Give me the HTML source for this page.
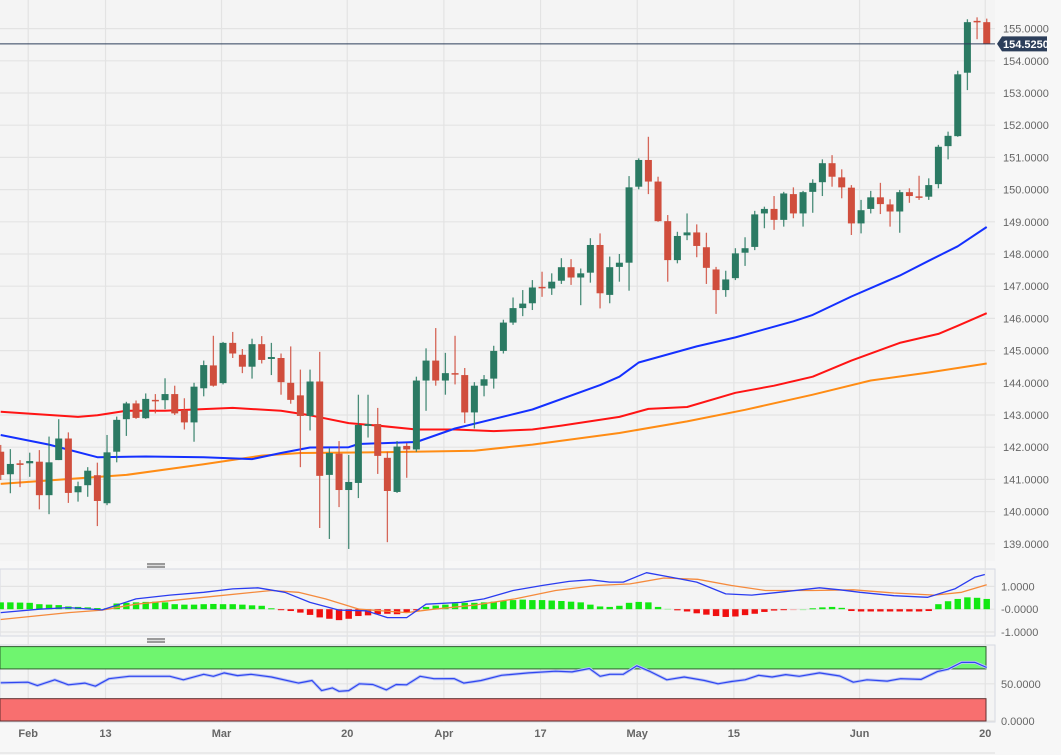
<!DOCTYPE html>
<html><head><meta charset="utf-8"><title>Candlestick chart</title>
<style>
html,body{margin:0;padding:0;background:#f7f7f7;}
svg{display:block;font-family:"Liberation Sans",sans-serif;}
</style></head>
<body>
<svg id="chart" width="1061" height="755" viewBox="0 0 1061 755">
  <rect x="0" y="0" width="1061" height="755" fill="#f7f7f7"/>
  <rect x="0" y="0" width="995" height="561" fill="#f4f4f4"/>
  <rect x="0" y="569" width="995" height="67" fill="#f4f4f4" stroke="#d6d9e2"/>
  <rect x="0" y="645" width="995" height="77" fill="#f4f4f4" stroke="#d6d9e2"/>
  <g id="grid"></g>
  <g id="rsiBands"></g>
  <g id="mas"></g>
  <g id="candles"></g>
  <g id="macd"></g>
  <g id="rsi"></g>
  <g id="axes"></g>
  <g><rect x="147" y="563" width="18" height="5" fill="#9a9a9a"/><line x1="147" y1="565.5" x2="165" y2="565.5" stroke="#ddd"/></g>
  <g><rect x="147" y="638" width="18" height="5" fill="#9a9a9a"/><line x1="147" y1="640.5" x2="165" y2="640.5" stroke="#ddd"/></g>
  <line x1="0" y1="753" x2="995" y2="753" stroke="#dcdcdc"/>
</svg>
<script>
// ---- data ----
const opens  = [141.86,141.16,141.50,141.50,141.55,140.51,141.60,142.27,140.60,140.82,141.13,140.26,141.86,142.87,143.36,142.90,143.47,143.46,143.65,143.15,142.77,143.83,144.54,143.99,145.24,144.87,144.50,145.20,144.74,144.77,144.00,143.61,142.97,144.04,141.14,141.80,140.67,140.89,142.66,142.72,141.67,140.61,142.04,141.93,144.07,144.69,144.07,144.30,144.24,143.08,143.91,144.13,144.99,145.87,146.32,146.47,146.98,146.93,147.17,147.59,147.27,147.42,148.28,146.73,147.60,147.73,150.09,150.92,150.25,149.02,147.81,148.58,148.67,148.21,147.52,146.88,147.25,148.04,148.22,149.26,149.40,149.06,149.86,149.26,149.93,150.23,150.82,150.38,150.06,148.95,149.40,149.76,149.54,149.32,149.92,149.79,149.78,150.17,151.35,151.66,153.63,155.24,155.20];
const highs  = [142.07,141.94,141.60,141.83,141.91,142.33,142.87,142.46,140.93,141.38,141.52,142.38,142.95,143.41,143.45,143.67,143.65,144.14,143.91,143.52,144.00,144.69,145.46,145.27,145.58,145.05,145.37,145.45,145.24,144.91,145.13,144.41,144.41,144.96,141.97,142.19,141.76,143.63,143.63,143.22,141.86,142.19,142.13,144.19,145.07,145.70,144.93,145.46,144.46,144.02,144.24,145.15,145.96,146.65,146.88,147.19,147.45,147.40,147.87,147.84,147.55,148.49,148.64,147.92,148.00,150.42,150.97,151.64,150.40,149.21,148.69,149.26,148.92,148.66,147.60,147.48,148.18,148.52,149.34,149.47,149.80,149.93,150.07,149.96,150.32,150.94,151.07,150.63,150.14,149.68,149.96,150.21,149.70,149.99,150.04,150.43,150.35,151.39,151.80,153.69,155.29,155.35,155.31];
const lows   = [140.98,140.57,140.76,141.08,140.07,139.92,141.60,140.27,140.31,140.46,139.55,140.20,141.53,142.35,142.88,142.88,143.05,143.18,143.00,142.55,142.17,143.58,143.88,143.95,144.77,144.30,144.13,144.60,144.24,143.63,143.35,141.38,142.52,139.49,139.15,140.14,138.84,140.42,142.30,141.17,139.05,140.58,141.05,141.86,143.13,143.91,143.63,143.95,142.75,142.58,143.58,143.82,144.91,145.80,146.07,146.26,146.67,146.73,147.07,147.04,146.41,147.11,146.31,146.47,147.14,146.86,150.01,149.86,149.00,147.14,147.71,148.43,147.90,147.07,146.14,146.67,147.19,147.63,148.12,148.80,148.75,148.85,149.11,148.85,149.28,149.80,150.09,149.73,148.59,148.64,149.26,149.24,148.85,148.66,149.59,149.68,149.68,150.04,150.94,151.64,153.09,154.67,154.52];
const closes = [141.14,141.48,141.45,141.57,140.51,141.53,142.27,140.58,140.79,141.27,140.33,141.84,142.85,143.36,142.91,143.50,143.45,143.65,143.05,142.77,143.88,144.55,143.91,145.24,144.91,144.50,145.20,144.71,144.80,144.02,143.47,142.97,144.04,141.11,141.82,140.67,140.92,142.69,142.72,141.73,140.64,142.02,141.93,144.07,144.69,144.07,144.30,144.27,143.08,143.91,144.11,144.99,145.87,146.32,146.46,146.96,146.94,147.14,147.59,147.27,147.40,148.28,146.78,147.59,147.73,150.07,150.92,150.25,149.02,147.81,148.56,148.67,148.25,147.57,146.88,147.21,148.02,148.18,149.23,149.40,149.06,149.88,149.26,149.92,150.21,150.82,150.40,150.07,148.95,149.36,149.76,149.55,149.32,149.92,149.80,149.77,150.14,151.33,151.67,153.58,155.20,155.20,154.525];
const lastPrice = 154.525;

const blueIdx = [0,5,10,15,21,26,29,32,36,37,43,47,55,62,64,66,72,76,82,84,88,91,93,96,99,102];
const blueVal = [142.38,142.08,141.69,141.71,141.69,141.63,141.82,141.99,142.00,142.10,142.16,142.58,143.17,143.93,144.19,144.63,145.13,145.41,145.91,146.11,146.68,147.07,147.33,147.79,148.24,148.84];
const redIdx = [0,8,10,13,17,24,29,32,36,39,43,47,51,55,58,64,67,71,76,80,84,88,93,97,99,102];
const redVal = [143.10,142.94,142.99,143.13,143.13,143.22,143.13,142.99,142.75,142.67,142.55,142.55,142.50,142.55,142.67,142.94,143.19,143.25,143.69,143.91,144.19,144.69,145.24,145.52,145.77,146.16];
const orangeIdx = [0,13,21,27,31,38,49,55,64,71,77,84,90,96,102];
const orangeVal = [140.86,141.14,141.47,141.74,141.82,141.84,141.89,142.08,142.44,142.80,143.16,143.63,144.07,144.32,144.60];

const histVal = [0.30,0.30,0.29,0.28, 0.22,0.20,0.18, 0.12,0.10,0.08, 0.05,0.04,
  0.25,0.28,0.30,0.32,0.33,0.30, 0.22,0.20,0.20,0.22,0.23,0.22, 0.22,0.20,0.17,0.15, 0.04,
  -0.04,-0.08,-0.15,-0.25,-0.36,-0.42,-0.48,-0.42,-0.30,-0.27,-0.22,-0.20,-0.22,-0.15,-0.05,
  0.10,0.16,0.20,0.26,0.28,0.28,0.30,0.33,0.38,0.40, 0.42,0.40,0.40,0.38,0.36,0.33,0.30,
  0.20,0.12,0.10,0.15, 0.28,0.32,0.30,0.10, 0.02,
  -0.05,-0.10,-0.18,-0.24,-0.30,-0.34,-0.32,-0.26,-0.20,-0.12, -0.06,-0.03,-0.01,0.00,
  0.04,0.08,0.10,0.06, -0.08,-0.10,-0.10,-0.10,-0.10,-0.10,-0.10,-0.10,-0.08,
  0.22,0.35,0.45,0.52,0.50,0.45];
const macdIdx = [0,4,7,10.5,14,17.5,21,24,26.6,29.4,32,35,37.8,40,42,44,47.6,50,53,56,58.8,61,63,64.4,66.8,69.3,72,75,77.7,80.5,84.7,86.8,88.9,92.4,95.9,98.7,100.8,101.8];
const macdVal = [-0.15,0,0.07,-0.03,0.45,0.62,0.74,0.89,0.94,0.74,0.30,-0.04,-0.07,-0.37,-0.37,0.22,0.30,0.45,0.82,1.04,1.22,1.29,1.19,1.19,1.60,1.41,1.19,0.67,0.62,0.74,0.94,0.85,0.74,0.59,0.52,0.89,1.41,1.52];
const signalIdx = [0,7,10.5,14,21,28,30.8,33.6,37.1,42,44.8,49,53.2,57.4,61.6,65.1,68.6,72.1,75.6,79.1,84,88.2,92.4,96.6,99.4,102];
const signalVal = [-0.45,-0.15,-0.04,0.22,0.52,0.82,0.74,0.45,0,-0.15,0,0.18,0.45,0.82,1.04,1.11,1.37,1.31,1.04,0.82,0.82,0.85,0.71,0.62,0.74,1.07];
const rsiIdx = [0,2.8,3.8,5.6,7,8.7,9.8,11.2,13.3,15.4,17.5,18.9,21,22,23.1,24.5,25.9,28,30.8,32.2,33.2,34.3,35,36,37.1,38.5,39.9,40.9,42,43.4,44.8,46.9,47.9,49.7,51.8,54.6,57.4,59.1,60.9,62,63,64.4,65.8,67.2,68.9,70.7,72.8,74.2,75.6,77,78.4,79.8,81.2,82.6,84.7,86.8,88.2,89.6,91.7,93.1,95.2,96.9,98,99.4,100.8,102];
const rsiVal = [51.3,52.2,47.6,55.4,48.6,50.9,46.8,56.8,60.1,60.1,60.1,55.4,62.8,60.1,64.6,61,62.8,59.1,50.9,54.5,40.8,44.5,39.9,40.8,50,49.1,41.8,49.1,48.6,60.1,56.8,57,50.9,54.5,61.4,64.6,66.9,66,70.5,60.1,62.8,62.8,74.2,66.4,55.4,59.1,54.5,50,53.1,55.4,61.4,59.1,62.3,60.1,64.6,60.5,52.2,55.4,53.6,56.8,55.9,66.4,69.6,78.7,78.7,71.9];

const priceTicks = [139,140,141,142,143,144,145,146,147,148,149,150,151,152,153,154,155];
const macdTicks = [1,0,-1];
const macdTickLabels = ["1.0000","-0.0000","-1.0000"];
const rsiTicks = [50,0];
const rsiTickLabels = ["50.0000","0.0000"];
const dateTickIdx = [3,11,23,36,46,56,66,76,89,102];
const dateTickLabels = ["Feb","13","Mar","20","Apr","17","May","15","Jun","20"];

// ---- scales ----
const NS = "http://www.w3.org/2000/svg";
function xS(i){ return 0.7 + i*9.667; }
function yP(v){ return 28.6 + (155 - v)*32.2; }
function yM(v){ return 609.2 - v*22.8; }
function yR(v){ return 721 - v*0.744; }
function mk(tag, attrs, parent){
  const e = document.createElementNS(NS, tag);
  for (const k in attrs) e.setAttribute(k, attrs[k]);
  parent.appendChild(e);
  return e;
}
const grid = document.getElementById('grid');
const axes = document.getElementById('axes');

// horizontal grid + price labels
priceTicks.forEach(v => {
  const l = mk('line', {x1:0, x2:995, y1:yP(v), y2:yP(v), stroke:'#e3e3e3', 'stroke-width':1.2}, grid);
  
  
  const t = mk('text', {x:1003, y:yP(v)+4, 'font-size':11, fill:'#666'}, axes);
  t.textContent = v.toFixed(4);
  
  
});
macdTicks.forEach((v, k) => {
  const l = mk('line', {x1:0, x2:995, y1:yM(v), y2:yM(v), stroke:'#e3e3e3', 'stroke-width':1.2}, grid);
  
  
  const t = mk('text', {x:1001, y:yM(v)+4, 'font-size':11, fill:'#666'}, axes);
  t.textContent = macdTickLabels[k];
  
  
});
rsiTicks.forEach((v, k) => {
  const l = mk('line', {x1:0, x2:995, y1:yR(v), y2:yR(v), stroke:'#e3e3e3', 'stroke-width':1.2}, grid);
  
  
  const t = mk('text', {x:1001, y:yR(v)+4, 'font-size':11, fill:'#666'}, axes);
  t.textContent = rsiTickLabels[k];
  
  
});
dateTickIdx.forEach((i, k) => {
  const x = xS(i) - 1.5;
  const l = mk('line', {x1:x, x2:x, y1:0, y2:722, stroke:'#e3e3e3', 'stroke-width':1.2}, grid);
  
  
  const t = mk('text', {x:x, y:737, 'font-size':11, 'font-weight':'bold', fill:'#666', 'text-anchor':'middle'}, axes);
  t.textContent = dateTickLabels[k];
  
  
});

// RSI bands
const rb = document.getElementById('rsiBands');
const gb = mk('rect', {x:0, y:yR(100), width:986, height:yR(70)-yR(100), fill:'#6ff56f', stroke:'#2f5f2f'}, rb);


const rdb = mk('rect', {x:0, y:yR(30), width:986, height:yR(0)-yR(30), fill:'#f86f6f', stroke:'#5f2f2f'}, rb);



// moving averages
function line(idx, vals, ys, color, w, parent, name){
  const d = idx.map((i,k) => (k?'L':'M') + xS(i).toFixed(1) + ',' + ys(vals[k]).toFixed(1)).join(' ');
  const p = mk('path', {d:d, fill:'none', stroke:color, 'stroke-width':w, 'stroke-linejoin':'round'}, parent);
  
  
}
const mas = document.getElementById('mas');
line(orangeIdx, orangeVal, yP, '#ff8c14', 2, mas, 'ma-orange-line');
line(redIdx, redVal, yP, '#ff1414', 2, mas, 'ma-red-line');
line(blueIdx, blueVal, yP, '#1430ff', 2, mas, 'ma-blue-line');

// candles
const cg = document.getElementById('candles');
opens.forEach((o, i) => {
  const c = closes[i], up = c >= o;
  const col = up ? '#2b7a63' : '#d04e3d';
  const x = xS(i);
  const w = mk('line', {x1:x, x2:x, y1:yP(highs[i]), y2:yP(lows[i]), stroke:col, 'stroke-width':1.3, opacity:0.85}, cg);
  
  
  const top = yP(Math.max(o,c)), bot = yP(Math.min(o,c));
  const b = mk('rect', {x:x-3.5, y:top, width:7, height:Math.max(1.5, bot-top), fill:col}, cg);
  
  
});

// last price line + label
const lp = mk('line', {x1:0, x2:995, y1:yP(lastPrice), y2:yP(lastPrice), stroke:'#2c3e5a', 'stroke-width':1}, axes);


const lpy = yP(lastPrice);
const tag = mk('path', {d:`M997,${lpy} L1002,${lpy-7.5} L1047,${lpy-7.5} L1047,${lpy+7.5} L1002,${lpy+7.5} Z`, fill:'#2c3e5a'}, axes);


const lt = mk('text', {x:1003, y:lpy+4, 'font-size':11, 'font-weight':'bold', fill:'#fff'}, axes);
lt.textContent = lastPrice.toFixed(4);



// MACD
const mg = document.getElementById('macd');
histVal.forEach((v, i) => {
  const y0 = yM(0), y1 = yM(v);
  const col = v >= 0 ? (Math.abs(v) < 0.03 ? '#a8f0a8' : '#12e812') : (Math.abs(v) < 0.03 ? '#f7b0b0' : '#f01010');
  const r = mk('rect', {x:xS(i)-3.2, y:Math.min(y0,y1), width:6.4, height:Math.max(1, Math.abs(y1-y0)), fill:col}, mg);
  
  
});
line(signalIdx, signalVal, yM, '#f58a3c', 1.3, mg, 'macd-signal-line');
line(macdIdx, macdVal, yM, '#2a3cf0', 1.3, mg, 'macd-line');

// RSI
const rg = document.getElementById('rsi');
line(rsiIdx, rsiVal, yR, '#b9c4f5', 3, rg, 'rsi-line-glow');
line(rsiIdx, rsiVal, yR, '#3046f0', 1.2, rg, 'rsi-line');
</script>
</body></html>
